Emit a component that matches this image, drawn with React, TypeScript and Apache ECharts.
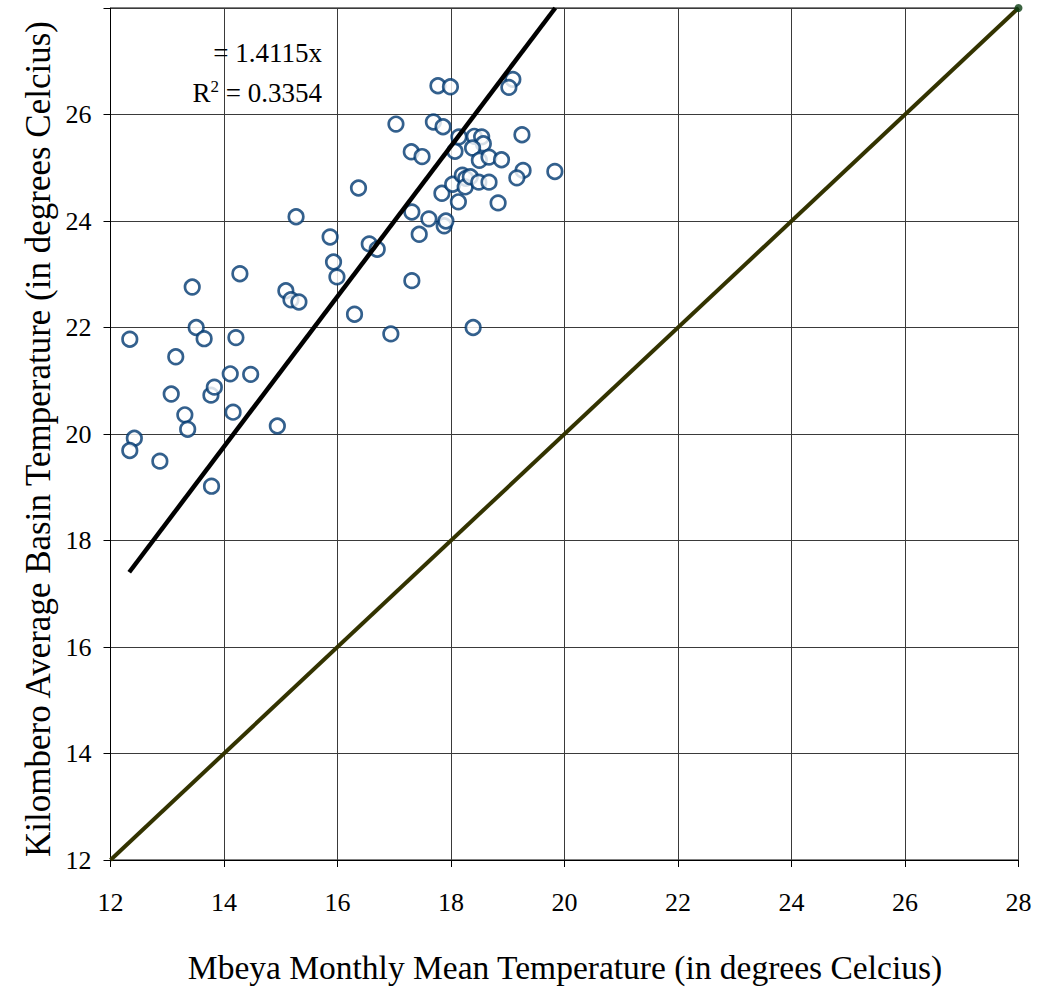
import React, { useEffect, useRef } from "react";
import * as echarts from "echarts";

// Mbeya monthly mean temperature (x) vs Kilombero average basin temperature (y)
const mbeyaTemp = [
  12.34, 12.42, 12.34, 12.87, 13.07, 13.15, 13.31, 13.36, 13.44, 13.51,
  13.65, 13.77, 13.83, 13.78, 14.11, 14.16, 14.21, 14.28, 14.47, 14.94,
  15.09, 15.18, 15.32, 15.27, 15.87, 15.93, 15.99, 16.30, 16.37, 16.56,
  16.70, 16.94, 17.03, 17.31, 17.30, 17.31, 17.49, 17.61, 17.44, 17.69,
  17.77, 17.86, 17.84, 17.88, 17.91, 17.99, 18.07, 18.03, 18.14, 18.13,
  18.20, 18.26, 18.25, 18.34, 18.39, 18.41, 18.54, 18.57, 18.38, 18.50,
  18.67, 18.89, 18.49, 18.67, 18.83, 19.09, 19.02, 19.25, 19.27, 19.16,
  19.83,
];
const kilomberoTemp = [
  21.78, 19.92, 19.69, 19.49, 20.75, 21.45, 20.36, 20.09, 22.76, 22.00,
  21.79, 20.73, 20.88, 19.02, 21.13, 20.41, 21.81, 23.01, 21.12, 20.15,
  22.69, 22.52, 22.48, 24.08, 23.70, 23.23, 22.95, 22.25, 24.62, 23.57,
  23.47, 21.88, 25.82, 22.88, 25.30, 24.17, 25.21, 24.04, 23.75, 25.86,
  26.54, 25.77, 24.52, 23.91, 24.00, 26.52, 25.31, 24.69, 25.58, 24.36,
  24.86, 24.80, 24.64, 24.83, 22.00, 25.59, 25.58, 25.45, 25.37, 25.14,
  25.20, 25.15, 24.73, 24.73, 24.34, 26.66, 26.51, 25.62, 24.95, 24.81,
  24.93,
];

// Trendline y = 1.4115x (R^2 = 0.3354), drawn over the range of the data
const trendSlope = 1.4115;
const trendR2 = 0.3354;
const trendXStart = 12.33;
const axisMin = 12;
const axisMax = 28;
const tickStep = 2;

const xTitle = "Mbeya Monthly Mean Temperature (in degrees Celcius)";
const yTitle = "Kilombero Average Basin Temperature (in degrees Celcius)";

const FAMILY = "Liberation Serif";

export default function App() {
  const ref = useRef<HTMLDivElement>(null);

  useEffect(() => {
    if (!ref.current) return;
    const chart = echarts.init(ref.current, undefined, { renderer: "svg" });

    const points = mbeyaTemp.map((x, i) => [x, kilomberoTemp[i]]);
    const trendXEnd = axisMax / trendSlope;
    const trendData = [
      [trendXStart, trendSlope * trendXStart],
      [trendXEnd, trendSlope * trendXEnd],
    ];
    const oneToOne = [
      [axisMin, axisMin],
      [axisMax, axisMax],
    ];

    const axisCommon = {
      type: "value" as const,
      min: axisMin,
      max: axisMax,
      interval: tickStep,
      axisLine: { show: true, lineStyle: { color: "#000", width: 1 } },
      axisTick: { show: true, inside: false, length: 7, lineStyle: { color: "#000", width: 1 } },
      splitLine: { show: true, lineStyle: { color: "#3a3a3a", width: 1 } },
    };

    chart.setOption({
      animation: false,
      backgroundColor: "#fff",
      grid: {
        left: 110.5,
        top: 8,
        right: 18.5,
        bottom: 127,
        show: true,
        borderColor: "#000",
        borderWidth: 1,
        containLabel: false,
      },
      xAxis: {
        ...axisCommon,
        axisLabel: {
          fontFamily: FAMILY,
          fontSize: 26,
          color: "#000",
          margin: 29,
        },
      },
      yAxis: {
        ...axisCommon,
        axisLabel: {
          fontFamily: FAMILY,
          fontSize: 26,
          color: "#000",
          margin: 19,
          formatter: (v: number) => (v === axisMax ? "" : String(v)),
        },
      },
      series: [
        {
          type: "line",
          data: oneToOne,
          symbol: "none",
          lineStyle: { color: "#333300", width: 4 },
          z: 2,
        },
        {
          type: "scatter",
          data: [[axisMax, axisMax]],
          symbol: "circle",
          symbolSize: 8,
          itemStyle: { color: "#0b3d12" },
          clip: false,
          z: 3,
        },
        {
          type: "scatter",
          data: points,
          symbol: "circle",
          symbolSize: 14.5,
          itemStyle: { color: "#fff", borderColor: "#003870", borderWidth: 2.7 },
          z: 4,
        },
        {
          type: "line",
          data: trendData,
          symbol: "none",
          lineStyle: { color: "#000", width: 4.5 },
          z: 5,
        },
      ],
      graphic: [
        {
          type: "text",
          x: 322,
          y: 53,
          style: {
            text: `= ${trendSlope}x`,
            fontFamily: FAMILY,
            fontSize: 27,
            fill: "#000",
            align: "right",
            verticalAlign: "middle",
          },
          z: 10,
        },
        {
          type: "text",
          x: 322,
          y: 93,
          style: {
            text: `R{sup|2} = ${trendR2}`,
            fontFamily: FAMILY,
            fontSize: 27,
            fill: "#000",
            align: "right",
            verticalAlign: "middle",
            rich: {
              sup: {
                fontFamily: FAMILY,
                fontSize: 17,
                verticalAlign: "top",
                padding: [0, 0, 14, 0],
                fill: "#000",
              },
            },
          },
          z: 10,
        },
        {
          type: "text",
          x: 565,
          y: 967,
          style: {
            text: xTitle,
            fontFamily: FAMILY,
            fontSize: 33.5,
            fill: "#000",
            align: "center",
            verticalAlign: "middle",
          },
        },
        {
          type: "text",
          x: 38,
          y: 439,
          rotation: Math.PI / 2,
          style: {
            text: yTitle,
            fontFamily: FAMILY,
            fontSize: 35,
            fill: "#000",
            align: "center",
            verticalAlign: "middle",
          },
        },
      ],
    });

    return () => chart.dispose();
  }, []);

  return (
    <div
      ref={ref}
      style={{ position: "fixed", left: 0, top: 0, width: 1037, height: 987 }}
    />
  );
}
